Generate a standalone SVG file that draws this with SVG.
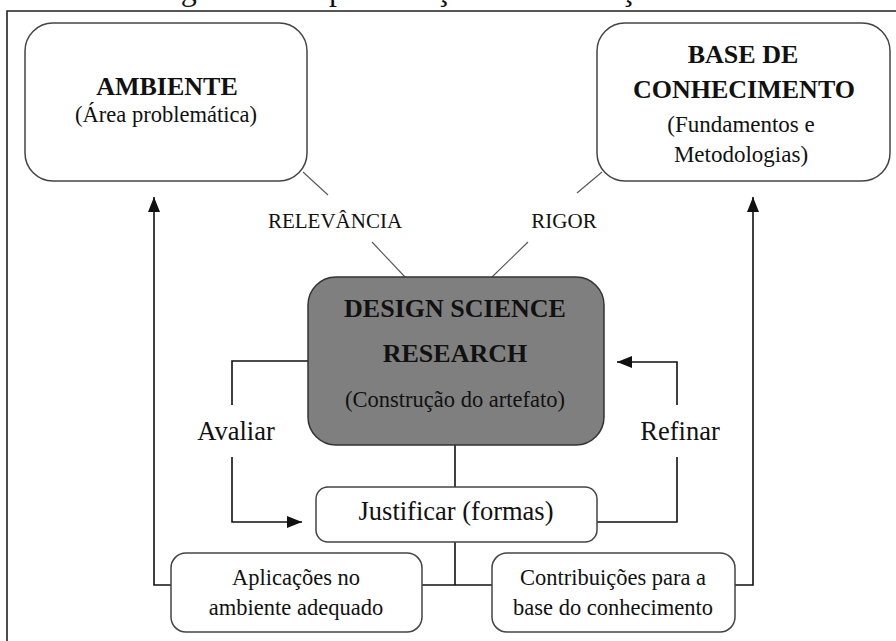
<svg xmlns="http://www.w3.org/2000/svg" width="896" height="641" viewBox="0 0 896 641">
<defs>
<style>
text{font-family:'Liberation Serif','Times New Roman',Times,'DejaVu Serif',serif;fill:#111;text-anchor:middle}
.t{font-weight:bold;font-size:26px}
.r{font-size:22.5px}
.lb{font-size:21px}
.big{font-size:26.5px}
.box{fill:#fff;stroke:#444;stroke-width:1.5}
.dsr{fill:#7f7f7f;stroke:#333;stroke-width:1.5}
.c{fill:none;stroke:#111;stroke-width:1.6}
.g{fill:none;stroke:#555;stroke-width:1.1}
</style>
<marker id="ah" markerUnits="userSpaceOnUse" markerWidth="16" markerHeight="12" refX="15" refY="6" orient="auto">
<path d="M0,0 L15,6 L0,12 Z" fill="#111"/>
</marker>
<clipPath id="cap"><rect x="0" y="0" width="896" height="10"/></clipPath>
</defs>
<text clip-path="url(#cap)" x="154" y="0" style="font-size:32px;text-anchor:start">Figura 5 – Representação da construção</text>
<path d="M7,641 V11 H896" fill="none" stroke="#222" stroke-width="1.6"/>
<g id="connectors">
<path class="g" d="M303,172 L328,195"/>
<path class="g" d="M372,242 L405,277"/>
<path class="g" d="M602,172 L577,193"/>
<path class="g" d="M528,242 L492,277"/>
<path class="c" d="M308,361 H232 V405"/>
<path class="c" d="M232,457 V522 H302" marker-end="url(#ah)"/>
<path class="c" d="M597,522 H677 V457"/>
<path class="c" d="M677,405 V362 H617" marker-end="url(#ah)"/>
<path class="c" d="M455,445 V487"/>
<path class="c" d="M455,542 V585"/>
<path class="c" d="M422,585 H492"/>
<path class="c" d="M171,585 H154 V197" marker-end="url(#ah)"/>
<path class="c" d="M735,585 H753 V197" marker-end="url(#ah)"/>
<text class="lb" x="335" y="228">RELEVÂNCIA</text>
<text class="lb" x="564" y="228">RIGOR</text>
<text class="big" x="236" y="440">Avaliar</text>
<text class="big" x="680" y="440">Refinar</text>
</g>
<g id="ambiente">
<rect class="box" x="25" y="23" width="282" height="158" rx="28"/>
<text class="t" x="167" y="95">AMBIENTE</text>
<text class="r" x="166" y="122">(Área problemática)</text>
</g>
<g id="base">
<rect class="box" x="597" y="23" width="293" height="158" rx="28"/>
<text class="t" x="743" y="63">BASE DE</text>
<text class="t" x="744" y="98">CONHECIMENTO</text>
<text class="r" x="741" y="132" style="font-size:23px">(Fundamentos e</text>
<text class="r" x="741" y="162" style="font-size:23px">Metodologias)</text>
</g>
<g id="dsr">
<rect class="dsr" x="308" y="277" width="296" height="168" rx="28"/>
<text class="t" x="455" y="317">DESIGN SCIENCE</text>
<text class="t" x="455" y="362">RESEARCH</text>
<text class="r" x="455" y="407">(Construção do artefato)</text>
</g>
<g id="justificar">
<rect class="box" x="316" y="487" width="281" height="55" rx="12"/>
<text class="big" x="456" y="520">Justificar (formas)</text>
</g>
<g id="aplicacoes">
<rect class="box" x="171" y="553" width="251" height="79" rx="15"/>
<text class="r" x="296" y="585">Aplicações no</text>
<text class="r" x="296" y="615">ambiente adequado</text>
</g>
<g id="contribuicoes">
<rect class="box" x="492" y="553" width="243" height="79" rx="15"/>
<text class="r" x="613" y="585">Contribuições para a</text>
<text class="r" x="613" y="615">base do conhecimento</text>
</g>
</svg>
